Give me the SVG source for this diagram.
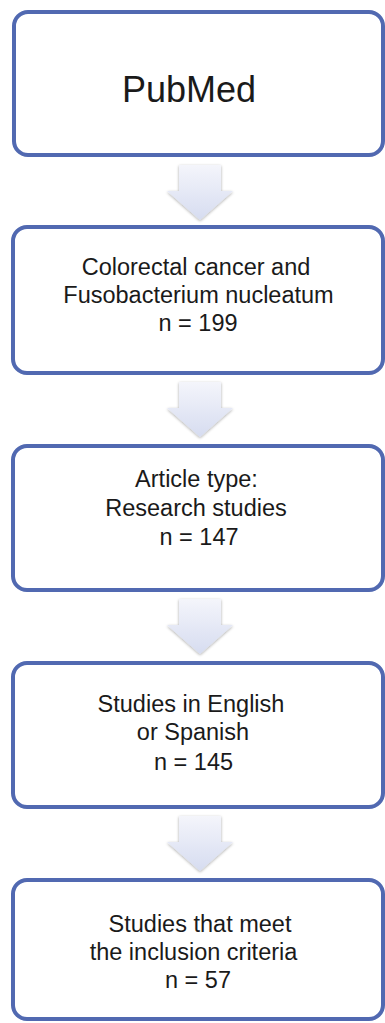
<svg xmlns="http://www.w3.org/2000/svg" width="385" height="1023" viewBox="0 0 385 1023">
  <defs>
    <linearGradient id="ag" x1="0" y1="0" x2="0" y2="1">
      <stop offset="0" stop-color="#f4f5fb"/>
      <stop offset="1" stop-color="#d6dcf0"/>
    </linearGradient>
    <filter id="sh" x="-30%" y="-30%" width="160%" height="160%">
      <feGaussianBlur in="SourceAlpha" stdDeviation="1.6"/>
      <feOffset dx="0" dy="1" result="b"/>
      <feComponentTransfer><feFuncA type="linear" slope="0.35"/></feComponentTransfer>
      <feMerge><feMergeNode/><feMergeNode in="SourceGraphic"/></feMerge>
    </filter>
    <path id="arr" d="M179 0 H221 V26 H233 L200 55 L167 26 H179 Z"/>
  </defs>
  <style>
    .box{fill:#ffffff;stroke:#5169b1;stroke-width:4}
    .t{font-family:"Liberation Sans",Arial,sans-serif;font-size:23.5px;fill:#1a1a1a;text-anchor:middle}
    .big{font-size:36px}
    .a{fill:url(#ag);filter:url(#sh)}
  </style>
  <rect width="385" height="1023" fill="#ffffff"/>
  <g id="connectors">
    <use href="#arr" class="a" y="165"/>
    <use href="#arr" class="a" y="382"/>
    <use href="#arr" class="a" y="599"/>
    <use href="#arr" class="a" y="816"/>
  </g>
  <g id="node1">
    <rect class="box" x="14" y="12" width="369" height="143" rx="14"/>
    <text class="t big" x="189" y="102">PubMed</text>
  </g>
  <g id="node2">
    <rect class="box" x="13" y="227" width="370" height="146" rx="14"/>
    <text class="t" x="196" y="275">Colorectal cancer and</text>
    <text class="t" x="198.5" y="303">Fusobacterium nucleatum</text>
    <text class="t" x="198" y="331">n = 199</text>
  </g>
  <g id="node3">
    <rect class="box" x="13" y="446" width="370" height="144" rx="14"/>
    <text class="t" x="196.5" y="487">Article type:</text>
    <text class="t" x="196" y="516">Research studies</text>
    <text class="t" x="199" y="545">n = 147</text>
  </g>
  <g id="node4">
    <rect class="box" x="13" y="663" width="370" height="144" rx="14"/>
    <text class="t" x="191" y="712">Studies in English</text>
    <text class="t" x="193" y="740">or Spanish</text>
    <text class="t" x="193.5" y="770">n = 145</text>
  </g>
  <g id="node5">
    <rect class="box" x="13" y="880" width="370" height="139" rx="14"/>
    <text class="t" x="200" y="932">Studies that meet</text>
    <text class="t" x="193.5" y="960">the inclusion criteria</text>
    <text class="t" x="198" y="988">n = 57</text>
  </g>
</svg>
